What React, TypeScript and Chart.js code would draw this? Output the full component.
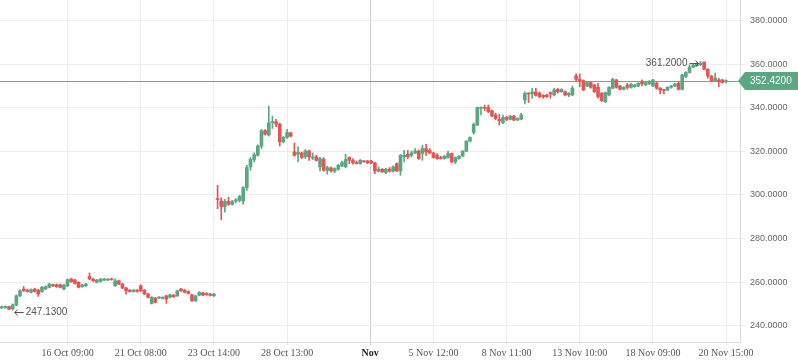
import React, { useEffect, useRef } from 'react';
import { Chart, registerables } from 'chart.js';
Chart.register(...registerables);

const OPEN = [
  248.1, 248.2, 248.8, 247.8, 249.5, 253.7, 256.8, 256.3, 255.3, 256.8,
  256.3, 255.7, 256.8, 257.6, 258.8, 258.8, 258.8, 256.8, 258.3, 261.4,
  261.0, 259.9, 257.9, 258.3, 262.6, 261.4, 259.9, 260.3, 260.9, 260.9,
  261.4, 258.3, 260.6, 259.1, 257.3, 256.3, 255.7, 256.3, 258.3, 256.3,
  254.5, 250.2, 252.7, 252.7, 252.5, 253.7, 253.0, 254.0, 253.7, 256.8,
  256.3, 255.7, 254.2, 251.4, 254.0, 255.0, 254.8, 254.5, 253.7,
  298.2, 297.2, 294.7, 297.0, 295.7, 297.2, 297.5, 297.2, 303.4, 312.9,
  316.3, 318.2, 322.4, 329.5, 327.5, 333.2, 333.6, 332.5, 324.4, 326.4,
  328.5, 319.8, 318.7, 319.3, 317.5, 320.2, 317.0, 317.5, 312.9, 316.4,
  311.3, 312.4, 310.9, 311.8, 313.3, 312.9, 317.2, 315.9, 314.7, 314.4,
  315.6, 315.6, 315.6, 314.7, 310.9, 311.8, 310.3, 311.8, 310.9, 314.4,
  311.0, 317.5, 318.7, 318.2, 319.3, 320.2, 319.0, 321.3, 320.5, 319.3,
  318.2, 317.2, 316.7, 317.2, 319.0, 315.2, 316.7, 317.8, 320.1, 324.7,
  328.7, 332.1, 339.8, 340.2, 340.2, 338.7, 336.7, 334.7, 333.1, 335.6,
  334.7, 336.2, 334.4, 334.8, 343.6, 346.7, 346.4, 347.3, 346.7, 345.7,
  345.9, 347.0, 345.9, 348.5, 347.4, 347.4, 345.9, 345.9,
  354.7, 353.1, 352.5, 350.0, 351.6, 350.5, 349.4, 346.7, 342.8, 345.9,
  349.0, 352.8, 350.0, 348.5, 350.5, 349.4, 349.7, 350.0, 352.0, 350.5,
  351.0, 350.0, 351.3, 349.0, 348.2, 348.2, 349.4, 350.0, 351.3, 348.5,
  354.4, 356.2, 358.7, 359.3, 359.7, 361.0, 357.7, 354.6, 352.5, 352.8,
  352.8, 352.0,
];
const HIGH = [
  249.0, 249.1, 249.0, 250.0, 254.2, 256.5, 258.0, 256.8, 256.9, 257.2,
  256.7, 258.0, 258.3, 259.5, 259.1, 259.2, 259.1, 259.0, 261.5, 261.8,
  261.3, 260.2, 259.0, 259.4, 264.2, 261.8, 261.3, 261.7, 261.7, 261.6,
  261.6, 261.5, 260.9, 259.4, 257.6, 256.6, 256.6, 256.6, 258.8, 256.6,
  254.8, 253.3, 253.0, 253.3, 253.3, 254.0, 254.5, 254.3, 256.3, 257.1,
  256.6, 256.0, 254.5, 254.0, 255.6, 255.3, 255.1, 254.8, 254.8,
  304.4, 298.7, 298.0, 299.0, 297.5, 298.3, 299.8, 303.8, 313.6, 317.2,
  319.3, 323.0, 330.1, 330.0, 340.8, 336.2, 334.7, 333.0, 326.9, 330.1,
  328.9, 323.9, 322.1, 319.7, 320.9, 320.6, 319.3, 318.3, 317.3, 317.2,
  313.2, 312.9, 312.5, 314.1, 315.5, 318.7, 317.5, 316.7, 315.6, 316.3,
  315.8, 315.9, 315.9, 315.0, 312.9, 312.1, 312.2, 312.6, 313.4, 314.8,
  318.6, 320.5, 320.5, 320.2, 321.3, 320.6, 322.8, 323.3, 321.3, 319.6,
  319.0, 317.8, 318.1, 320.2, 319.3, 317.5, 318.1, 320.4, 325.0, 326.7,
  333.1, 340.4, 340.5, 341.3, 341.3, 339.0, 337.5, 337.1, 336.7, 336.2,
  336.5, 336.5, 335.4, 337.5, 347.4, 346.9, 349.0, 349.0, 347.3, 346.0,
  346.2, 347.3, 349.0, 349.0, 348.8, 347.8, 347.0, 350.0,
  355.6, 355.6, 352.8, 351.9, 351.9, 350.8, 351.3, 347.0, 347.3, 349.7,
  353.6, 353.1, 350.3, 349.7, 351.3, 351.3, 350.8, 351.6, 352.8, 351.9,
  352.5, 353.1, 352.0, 349.3, 348.5, 349.7, 350.3, 351.3, 352.0, 355.4,
  356.5, 359.7, 360.0, 360.6, 361.2, 361.1, 358.0, 354.9, 355.9, 353.6,
  353.1, 352.8,
];
const LOW = [
  247.9, 248.0, 247.3, 247.13, 249.2, 253.3, 255.7, 255.4, 255.0, 255.4,
  253.4, 255.3, 256.5, 257.3, 258.0, 257.6, 257.3, 256.4, 257.9, 259.9,
  259.1, 257.3, 257.6, 258.0, 261.1, 260.3, 259.6, 260.0, 260.6, 260.7,
  260.9, 258.0, 258.8, 257.0, 254.5, 255.4, 255.4, 255.4, 255.7, 254.2,
  252.7, 249.9, 250.4, 252.4, 252.2, 250.2, 252.7, 253.0, 253.4, 255.7,
  255.0, 254.5, 251.1, 251.1, 253.7, 253.7, 253.9, 253.6, 253.4,
  293.7, 288.7, 292.1, 295.2, 295.3, 296.4, 296.7, 295.7, 302.1, 311.3,
  315.2, 317.8, 321.3, 327.5, 327.0, 330.5, 331.3, 322.4, 323.9, 326.0,
  326.6, 317.8, 315.2, 316.7, 316.7, 315.9, 316.2, 315.5, 311.0, 310.9,
  309.5, 310.5, 310.3, 311.4, 313.0, 312.5, 314.4, 314.1, 314.2, 314.1,
  315.0, 314.4, 314.4, 309.8, 310.6, 310.3, 309.8, 310.5, 310.5, 310.7,
  309.0, 315.2, 316.7, 317.5, 318.9, 316.3, 315.9, 318.2, 318.9, 316.9,
  316.4, 316.4, 316.4, 316.9, 314.8, 314.4, 316.4, 317.5, 319.8, 324.4,
  327.9, 331.8, 336.7, 338.7, 337.8, 335.9, 334.6, 332.1, 332.7, 334.1,
  334.4, 334.1, 334.1, 334.5, 341.8, 342.4, 344.4, 345.3, 344.7, 344.4,
  344.8, 344.4, 345.5, 346.7, 347.1, 345.5, 345.1, 345.5,
  352.5, 349.7, 347.9, 349.7, 349.0, 347.0, 344.4, 342.9, 342.4, 345.5,
  348.7, 349.0, 348.2, 348.2, 348.5, 349.0, 349.4, 349.7, 350.0, 350.2,
  350.7, 349.7, 348.5, 346.4, 346.4, 347.9, 349.0, 349.7, 348.2, 348.2,
  353.9, 355.9, 358.4, 359.0, 359.4, 357.4, 353.6, 352.2, 352.2, 349.7,
  351.3, 351.3,
];
const CLOSE = [
  248.7, 248.8, 247.5, 249.6, 253.7, 256.0, 256.0, 255.7, 256.5, 255.7,
  254.5, 257.6, 257.9, 259.1, 258.2, 257.9, 257.6, 258.6, 261.1, 260.2,
  259.4, 257.6, 258.6, 259.1, 261.4, 260.6, 260.9, 261.4, 261.4, 261.4,
  261.1, 260.6, 259.1, 257.3, 256.0, 255.7, 256.3, 255.7, 256.0, 254.5,
  253.0, 253.0, 250.7, 253.0, 253.0, 252.2, 254.2, 253.3, 256.0, 256.0,
  255.3, 254.8, 251.4, 253.7, 255.3, 254.0, 254.2, 253.9, 254.5,
  297.9, 294.7, 297.0, 295.7, 297.0, 297.8, 299.4, 303.4, 312.6, 316.3,
  318.5, 322.5, 329.5, 327.9, 333.1, 333.6, 332.5, 324.4, 326.4, 328.7,
  327.0, 318.2, 319.5, 317.2, 320.2, 317.5, 317.5, 315.9, 316.7, 311.3,
  312.6, 311.0, 312.1, 313.6, 314.9, 316.3, 315.9, 314.7, 314.4, 315.9,
  315.2, 314.7, 314.7, 311.0, 311.8, 310.6, 311.8, 310.9, 312.9, 311.0,
  318.2, 318.2, 317.5, 319.3, 320.2, 316.7, 321.3, 319.8, 319.3, 317.2,
  316.7, 316.7, 317.8, 319.0, 315.2, 317.2, 317.8, 320.1, 324.7, 326.4,
  332.4, 340.1, 340.2, 339.8, 338.2, 336.2, 335.1, 334.1, 335.5, 334.7,
  336.2, 334.4, 335.1, 336.7, 346.7, 346.4, 347.3, 345.7, 345.1, 345.1,
  345.1, 346.4, 348.2, 347.4, 348.5, 345.9, 346.7, 349.0,
  353.1, 352.5, 348.2, 351.6, 349.4, 347.4, 345.1, 343.3, 347.0, 349.4,
  353.1, 349.4, 348.5, 349.4, 349.4, 350.8, 350.5, 351.3, 351.0, 351.6,
  352.0, 352.8, 349.0, 348.2, 347.9, 349.4, 350.0, 350.9, 348.5, 355.1,
  356.2, 358.7, 359.7, 360.2, 360.5, 357.7, 354.6, 352.5, 353.6, 352.0,
  351.6, 352.42,
];

const TICK_INDEX = [18, 38, 58, 78, 100.7, 118, 138, 158, 178, 198];
const TICK_LABELS = [
  '16 Oct 09:00', '21 Oct 08:00', '23 Oct 14:00', '28 Oct 13:00', 'Nov',
  '5 Nov 12:00', '8 Nov 11:00', '13 Nov 10:00', '18 Nov 09:00', '20 Nov 15:00',
];
const Y_TICKS = [240, 260, 280, 300, 320, 340, 360, 380];

const UP = '#5aa782';
const DOWN = '#e25656';
const GRID = '#ededf1';

function arrow(ctx: CanvasRenderingContext2D, x1: number, x2: number, y: number) {
  const dir = x2 > x1 ? 1 : -1;
  ctx.beginPath();
  ctx.moveTo(x1, y);
  ctx.lineTo(x2, y);
  ctx.moveTo(x2 - dir * 3, y - 3);
  ctx.lineTo(x2, y);
  ctx.lineTo(x2 - dir * 3, y + 3);
  ctx.stroke();
}

export default function App() {
  const ref = useRef<HTMLCanvasElement>(null);
  useEffect(() => {
    document.body.style.margin = '0';
    const canvas = ref.current!;
    const colors = OPEN.map((o, i) => (CLOSE[i] >= o ? UP : DOWN));
    const bodies = OPEN.map((o, i) => {
      const c = CLOSE[i];
      let lo = Math.min(o, c), hi = Math.max(o, c);
      if (hi - lo < 0.3) hi = lo + 0.3;
      return { x: i, y: [lo, hi] };
    });
    const wicks = OPEN.map((_, i) => ({ x: i, y: [LOW[i], HIGH[i]] }));

    const overlay = {
      id: 'overlay',
      beforeDatasetsDraw(chart: any) {
        const { ctx, chartArea, scales } = chart;
        const last = CLOSE[CLOSE.length - 1];
        const py = Math.round(scales.y.getPixelForValue(last)) + 0.5;
        ctx.save();
        ctx.strokeStyle = '#6aa98a';
        ctx.lineWidth = 1;
        ctx.beginPath();
        ctx.moveTo(chartArea.left, py);
        ctx.lineTo(chartArea.right, py);
        ctx.stroke();
        ctx.restore();
      },
      afterDraw(chart: any) {
        const { ctx, chartArea, scales } = chart;
        const last = CLOSE[CLOSE.length - 1];
        const py = Math.round(scales.y.getPixelForValue(last));
        ctx.save();
        const lx = chartArea.right - 2;
        const h = 9;
        ctx.fillStyle = '#5aa782';
        ctx.beginPath();
        ctx.moveTo(lx, py);
        ctx.lineTo(lx + 7, py - h);
        ctx.lineTo(chart.width, py - h);
        ctx.lineTo(chart.width, py + h);
        ctx.lineTo(lx + 7, py + h);
        ctx.closePath();
        ctx.fill();
        ctx.fillStyle = '#ffffff';
        ctx.font = '10px "Liberation Sans", Arial, sans-serif';
        ctx.textBaseline = 'middle';
        ctx.textAlign = 'left';
        ctx.fillText(last.toFixed(4), chartArea.right + 10, py + 0.5);

        let lowIdx = 0, highIdx = 0;
        LOW.forEach((v, i) => { if (v < LOW[lowIdx]) lowIdx = i; });
        HIGH.forEach((v, i) => { if (v > HIGH[highIdx]) highIdx = i; });
        ctx.fillStyle = '#555555';
        ctx.strokeStyle = '#555555';
        ctx.lineWidth = 1;
        ctx.font = '10px "Liberation Sans", Arial, sans-serif';
        const lxp = scales.x.getPixelForValue(lowIdx);
        const lyp = Math.round(scales.y.getPixelForValue(LOW[lowIdx])) + 2;
        arrow(ctx, lxp + 11, lxp + 2, lyp + 0.5);
        ctx.textAlign = 'left';
        ctx.fillText(LOW[lowIdx].toFixed(4), lxp + 13, lyp + 0.5);
        const hxp = scales.x.getPixelForValue(highIdx);
        const hyp = Math.round(scales.y.getPixelForValue(HIGH[highIdx])) + 1;
        arrow(ctx, hxp - 11, hxp - 2, hyp + 0.5);
        ctx.textAlign = 'right';
        ctx.fillText(HIGH[highIdx].toFixed(4), hxp - 13, hyp + 0.5);
        ctx.restore();
      },
    };

    const chart = new Chart(canvas, {
      type: 'bar',
      data: {
        datasets: [
          {
            data: bodies as any,
            backgroundColor: colors,
            barThickness: 3,
            grouped: false,
            minBarLength: 1,
          } as any,
          {
            data: wicks as any,
            backgroundColor: colors,
            barThickness: 1,
            grouped: false,
          } as any,
        ],
      },
      options: {
        animation: false,
        responsive: false,
        maintainAspectRatio: false,
        layout: { padding: 0 },
        plugins: { legend: { display: false }, tooltip: { enabled: false } },
        scales: {
          x: {
            type: 'linear',
            min: -0.47,
            max: 201.8,
            offset: false,
            afterBuildTicks: (s: any) => {
              s.ticks = TICK_INDEX.map((v) => ({ value: v }));
            },
            afterFit: (s: any) => {
              s.height = 21;
              s.paddingLeft = 0;
              s.paddingRight = 0;
            },
            grid: {
              offset: false,
              color: (c: any) => (c.tick && c.tick.value === 100.7 ? '#cfcfcf' : GRID),
              drawTicks: true,
              tickLength: 3,
            },
            border: { display: true, color: '#dcdcdc' },
            ticks: {
              autoSkip: false,
              maxRotation: 0,
              padding: 2,
              font: (c: any) =>
                c.tick && c.tick.value === 100.7
                  ? { family: '"Liberation Serif", serif', size: 10, weight: 'bold' }
                  : { family: '"Liberation Serif", serif', size: 10 },
              color: (c: any) => (c.tick && c.tick.value === 100.7 ? '#222222' : '#555555'),
              callback: (v: any) => {
                const k = TICK_INDEX.indexOf(v);
                return k >= 0 ? TICK_LABELS[k] : '';
              },
            },
          } as any,
          y: {
            type: 'linear',
            position: 'right',
            min: 232.5,
            max: 389.5,
            afterBuildTicks: (s: any) => {
              s.ticks = Y_TICKS.map((v) => ({ value: v }));
            },
            afterFit: (s: any) => {
              s.width = 58;
              s.paddingTop = 0;
              s.paddingBottom = 0;
            },
            grid: { color: GRID, tickLength: 5 },
            border: { display: true, color: '#dcdcdc' },
            ticks: {
              padding: 5,
              color: '#666666',
              font: { family: '"Liberation Sans", Arial, sans-serif', size: 9 },
              callback: (v: any) => Number(v).toFixed(4),
            },
          } as any,
        },
      },
      plugins: [overlay],
    });
    return () => chart.destroy();
  }, []);
  return (
    <canvas
      ref={ref}
      width={798}
      height={363}
      style={{ display: 'block', width: 798, height: 363 }}
    />
  );
}
